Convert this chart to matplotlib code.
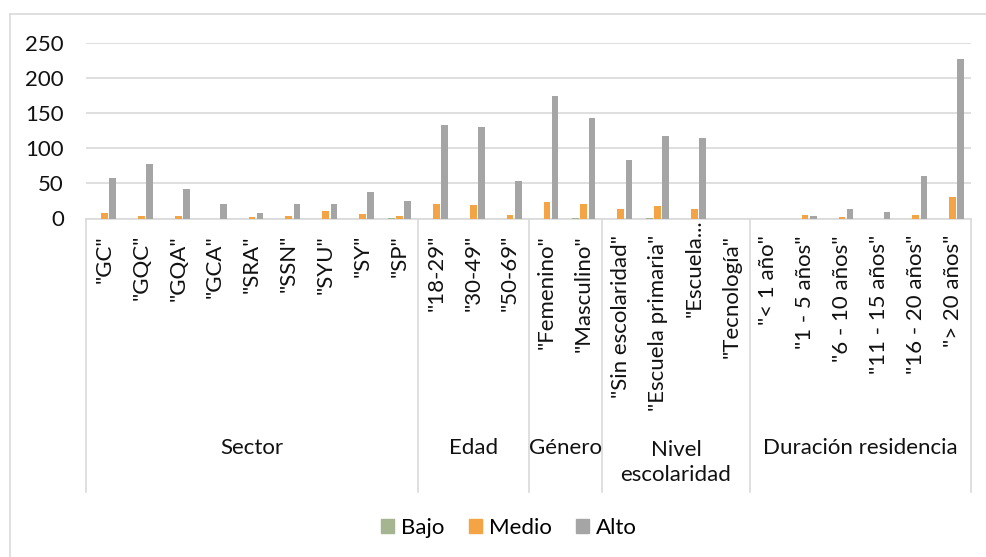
import matplotlib
matplotlib.use("Agg")
import matplotlib.pyplot as plt
from matplotlib.lines import Line2D
from matplotlib.patches import Patch
import numpy as np

plt.rcParams['font.family'] = ['Lato', 'DejaVu Sans']

# categories (with their group)
labels = ['"GC"', '"GQC"', '"GQA"', '"GCA"', '"SRA"', '"SSN"', '"SYU"', '"SY"', '"SP"',
          '"18-29"', '"30-49"', '"50-69"',
          '"Femenino"', '"Masculino"',
          '"Sin escolaridad"', '"Escuela primaria"', '"Escuela...', '"Tecnología"',
          '"< 1 año"', '"1 - 5 años"', '"6 - 10 años"', '"11 - 15 años"',
          '"16 - 20 años"', '"> 20 años"']
groups = ['Sector', 'Edad', 'Género', 'Nivel\nescolaridad', 'Duración residencia']
group_sizes = [9, 3, 2, 4, 6]

# values
bajo = [0, 0, 0, 0, 0, 0, 0, 0, 1,
        0, 0, 0,
        0, 1,
        0, 1, 0, 0,
        0, 0, 0, 0, 0, 0]
medio = [8, 3, 4, 0, 2, 3, 11, 6, 3,
         20, 19, 5,
         24, 21,
         13, 18, 13, 0,
         0, 5, 2, 0, 5, 31]
alto = [58, 78, 42, 21, 8, 20, 21, 37, 25,
        133, 130, 54,
        174, 143,
        83, 118, 114, 0,
        0, 4, 13, 9, 61, 227]

series = ['Bajo', 'Medio', 'Alto']
colors = ['#A5B592', '#F4A445', '#A5A5A5']
grid_c = '#D9D9D9'
fs = 16

fig = plt.figure(figsize=(9.87, 5.57), dpi=100)
ax = fig.add_axes([86/987, 1-218.5/557, 885/987, 175.8/557])

x = np.arange(len(labels))
w = 0.18
off = 0.222
for vals, c, dx in zip([bajo, medio, alto], colors, [-off, 0, off]):
    ax.bar(x + dx, vals, width=w, color=c, zorder=3)

ax.set_xlim(-0.5, len(labels) - 0.5)
ax.set_ylim(0, 250)
ax.set_yticks(np.arange(0, 251, 50))
ax.yaxis.grid(True, color=grid_c, lw=1.2, zorder=0)
ax.tick_params(axis='y', length=0, pad=16, labelsize=fs, labelcolor='#111111')
ax.set_xticks([])
for s in ['top', 'right', 'left']:
    ax.spines[s].set_visible(False)
ax.spines['bottom'].set_color(grid_c)
ax.spines['bottom'].set_linewidth(1.2)

tr = ax.get_xaxis_transform()
for i, lab in enumerate(labels):
    y = -0.003 if lab == '"Escuela...' else -0.094
    ax.text(i, y, lab, rotation=90, ha='center', va='top', fontsize=fs,
            color='#111111', transform=tr, clip_on=False)

# group separators and labels
bounds = np.concatenate([[0], np.cumsum(group_sizes)]) - 0.5
for b in bounds:
    ax.plot([b, b], [0, -1.556], color=grid_c, lw=1.2, transform=tr, clip_on=False)
for g, a, b in zip(groups, bounds[:-1], bounds[1:]):
    yy = -1.388 if '\n' in g else -1.306
    ax.text((a + b) / 2, yy, g, ha='center', va='center', fontsize=fs,
            color='#111111', transform=tr, linespacing=1.35, clip_on=False)

# chart area border (left and top visible)
fig.add_artist(Line2D([9.5/987, 9.5/987], [0, 1-13.5/557], color=grid_c, lw=1.2))
fig.add_artist(Line2D([9.5/987, 1], [1-13.5/557, 1-13.5/557], color=grid_c, lw=1.2))

handles = [Patch(color=c, label=s) for s, c in zip(series, colors)]
fig.legend(handles=handles, loc='center', bbox_to_anchor=(509/987, 1-528/557),
           ncol=3, frameon=False, fontsize=fs, handlelength=0.6, handleheight=0.6,
           handletextpad=0.3, columnspacing=1.1)

fig.savefig('out.png', dpi=100)
